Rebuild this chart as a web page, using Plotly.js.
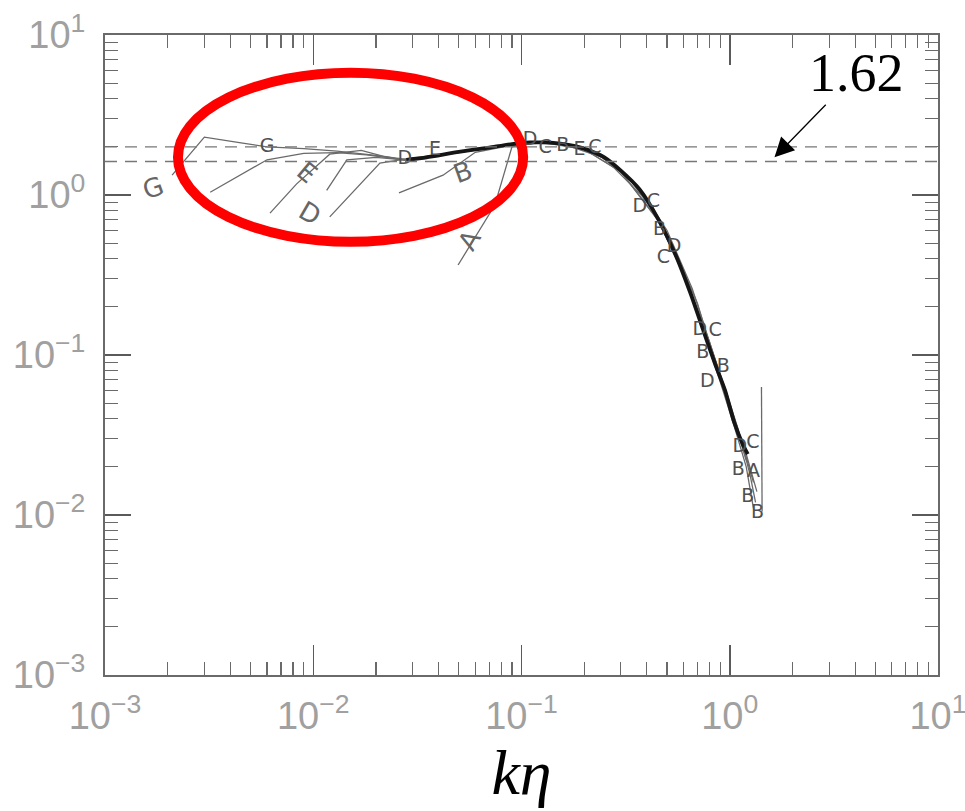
<!DOCTYPE html>
<html>
<head>
<meta charset="utf-8">
<script src="https://cdn.plot.ly/plotly-3.0.1.min.js"></script>
<style>html,body{margin:0;padding:0;background:#fff;}#chart{width:965px;height:811px;}</style>
</head>
<body>
<div id="chart"></div>
<script>
// ---- data ----
// main thick curve
var mainK = [0.028, 0.035, 0.05, 0.07, 0.09, 0.11, 0.13, 0.16, 0.2, 0.25, 0.3, 0.37, 0.45, 0.55, 0.65, 0.75, 0.85, 0.95, 1.05, 1.15, 1.22];
var mainE = [1.66, 1.72, 1.86, 1.98, 2.08, 2.13, 2.13, 2.08, 1.95, 1.72, 1.42, 1.08, 0.72, 0.42, 0.24, 0.14, 0.088, 0.060, 0.038, 0.028, 0.024];

// thin runs A-G
var kA = [0.0496, 0.0745, 0.09, 0.11, 0.14, 0.2, 0.3, 0.45, 0.6, 0.75, 0.9, 1.05, 1.2, 1.3];
var eA = [0.365, 0.866, 2.0, 2.1, 2.1, 1.93, 1.4, 0.70, 0.33, 0.14, 0.068, 0.036, 0.02, 0.011];
var kB = [0.0258, 0.042, 0.06, 0.09, 0.12, 0.16, 0.22, 0.32, 0.47, 0.62, 0.78, 0.95, 1.1, 1.25, 1.33];
var eB = [1.03, 1.33, 1.85, 2.05, 2.12, 2.07, 1.88, 1.33, 0.68, 0.30, 0.13, 0.062, 0.034, 0.018, 0.012];
var kC = [0.012, 0.0209, 0.028, 0.04, 0.06, 0.09, 0.12, 0.17, 0.25, 0.37, 0.5, 0.66, 0.82, 1.0, 1.15, 1.3];
var eC = [0.73, 1.585, 1.68, 1.78, 1.92, 2.07, 2.14, 2.06, 1.74, 1.1, 0.6, 0.26, 0.11, 0.05, 0.028, 0.016];
var kD = [0.0116, 0.0145, 0.02, 0.028, 0.04, 0.07, 0.11, 0.16, 0.25, 0.4, 0.55, 0.7, 0.85, 1.0, 1.2, 1.35];
var eD = [1.07, 1.66, 1.72, 1.65, 1.76, 1.97, 2.12, 2.07, 1.70, 0.92, 0.44, 0.21, 0.09, 0.047, 0.024, 0.014];
var kE = [0.0062, 0.0083, 0.012, 0.017, 0.022, 0.028, 0.05, 0.09, 0.13, 0.2, 0.3, 0.45, 0.6, 0.8, 1.0, 1.2];
var eE = [0.77, 1.17, 1.80, 1.90, 1.74, 1.64, 1.86, 2.06, 2.12, 1.93, 1.40, 0.71, 0.32, 0.12, 0.048, 0.022];
var kF = [0.0032, 0.006, 0.009, 0.013, 0.018, 0.028, 0.05, 0.1];
var eF = [1.04, 1.66, 1.82, 1.84, 1.78, 1.65, 1.85, 2.08];
var kG = [0.0021, 0.003, 0.0045, 0.006, 0.009, 0.013, 0.019, 0.028, 0.05, 0.1];
var eG = [1.33, 2.30, 2.12, 2.00, 1.95, 1.88, 1.78, 1.67, 1.86, 2.07];
var cutK = [1.42, 1.43];
var cutE = [0.063, 0.0105];

// letter symbols plotted at data points
var symK = [0.0275, 0.0384, 0.006, 0.11, 0.13, 0.158, 0.19, 0.225, 0.37, 0.43, 0.46, 0.54, 0.48, 0.718, 0.85, 0.743, 0.93, 0.78, 1.118, 1.29, 1.10, 1.30, 1.22, 1.36];
var symE = [1.68, 1.90, 2.00, 2.21, 1.95, 2.03, 1.91, 1.97, 0.84, 0.90, 0.60, 0.47, 0.40, 0.143, 0.14, 0.103, 0.084, 0.068, 0.0266, 0.0282, 0.019, 0.0185, 0.013, 0.0103];
var symT = ['D', 'E', 'G', 'D', 'C', 'B', 'E', 'C', 'D', 'C', 'B', 'D', 'C', 'D', 'C', 'B', 'B', 'D', 'D', 'C', 'B', 'A', 'B', 'B'];

// run labels at the ends of the runs
var labK = [0.0017, 0.0093, 0.0096, 0.0524, 0.0565];
var labE = [1.11, 1.39, 0.77, 1.39, 0.52];
var labT = ['G', 'E', 'D', 'B', 'A'];
var labAng = [-20, 40, 30, -20, -60];

// reference levels
var levels = [2.0, 1.62];
var annText = '1.62';
var annK = 1.64, annE = 1.72;

// tick labels
var decades = [0.001, 0.01, 0.1, 1, 10];
var decText = ['10<sup>\u22123</sup>', '10<sup>\u22122</sup>', '10<sup>\u22121</sup>', '10<sup>0</sup>', '10<sup>1</sup>'];

// ---- build ----
var gray = '#6a6a6a';
function thin(k, e) {
  return {x: k, y: e, type: 'scatter', mode: 'lines', line: {color: gray, width: 1.3}, hoverinfo: 'skip', showlegend: false};
}
var traces = [thin(kA, eA), thin(kB, eB), thin(kC, eC), thin(kD, eD), thin(kE, eE), thin(kF, eF), thin(kG, eG), thin(cutK, cutE)];
traces.push({x: mainK, y: mainE, type: 'scatter', mode: 'lines', line: {color: '#151515', width: 3.8, shape: 'spline', smoothing: 0.6}, showlegend: false});
traces.push({x: symK, y: symE, type: 'scatter', mode: 'text', text: symT, textposition: 'middle center',
  textfont: {family: 'DejaVu Sans', size: 19, color: '#505050'}, showlegend: false});

var minorVals = [];
for (var d = -3; d < 1; d++) for (var m = 2; m <= 9; m++) minorVals.push(m * Math.pow(10, d));

var annotations = [];
for (var i = 0; i < labT.length; i++) {
  annotations.push({x: Math.log10(labK[i]), y: Math.log10(labE[i]), xref: 'x', yref: 'y', text: labT[i], showarrow: false,
    textangle: labAng[i], font: {family: 'DejaVu Sans', size: 26, color: '#666'}});
}
annotations.push({x: Math.log10(annK), y: Math.log10(annE), xref: 'x', yref: 'y', text: annText, showarrow: true,
  ax: 82, ay: -84, arrowhead: 2, arrowsize: 3, arrowwidth: 1.3, arrowcolor: '#000',
  font: {family: 'Liberation Serif', size: 54, color: '#000'}});

var shapes = [];
levels.forEach(function (v) {
  shapes.push({type: 'line', xref: 'paper', x0: 0, x1: 1, yref: 'y', y0: v, y1: v, line: {color: '#777', width: 1.4, dash: '12px,8px'}});
});
shapes.push({type: 'circle', xref: 'paper', yref: 'paper', x0: 0.0876, x1: 0.502, y0: 0.677, y1: 0.941, line: {color: '#ff0000', width: 10}});

function axisBase(len) {
  return {
    type: 'log', range: [-3, 1], tickmode: 'array', tickvals: decades, ticktext: decText,
    ticks: 'inside', ticklen: len, tickwidth: 1.5, tickcolor: '#5a5a5a', mirror: 'allticks',
    showline: true, linecolor: '#6a6a6a', linewidth: 2, showgrid: false, zeroline: false,
    minor: {tickmode: 'array', tickvals: minorVals, ticks: 'inside', ticklen: 13, tickwidth: 1.2, tickcolor: '#6a6a6a', showgrid: false},
    ticklabeloverflow: 'allow',
    tickfont: {family: 'Liberation Sans, sans-serif', size: 38, color: '#a0a0a0'}
  };
}
var xa = axisBase(30);
xa.ticklabelstandoff = 6;
xa.title = {text: '<i>k\u03b7</i>', font: {family: 'Liberation Serif', size: 64, color: '#000'}, standoff: 8};
var ya = axisBase(26);
ya.ticklabelstandoff = 10;

var layout = {
  width: 965, height: 811, margin: {l: 105, r: 27, t: 35, b: 136},
  paper_bgcolor: '#fff', plot_bgcolor: '#fff', showlegend: false,
  xaxis: xa, yaxis: ya, shapes: shapes, annotations: annotations
};
Plotly.newPlot('chart', traces, layout, {staticPlot: true});
</script>
</body>
</html>
